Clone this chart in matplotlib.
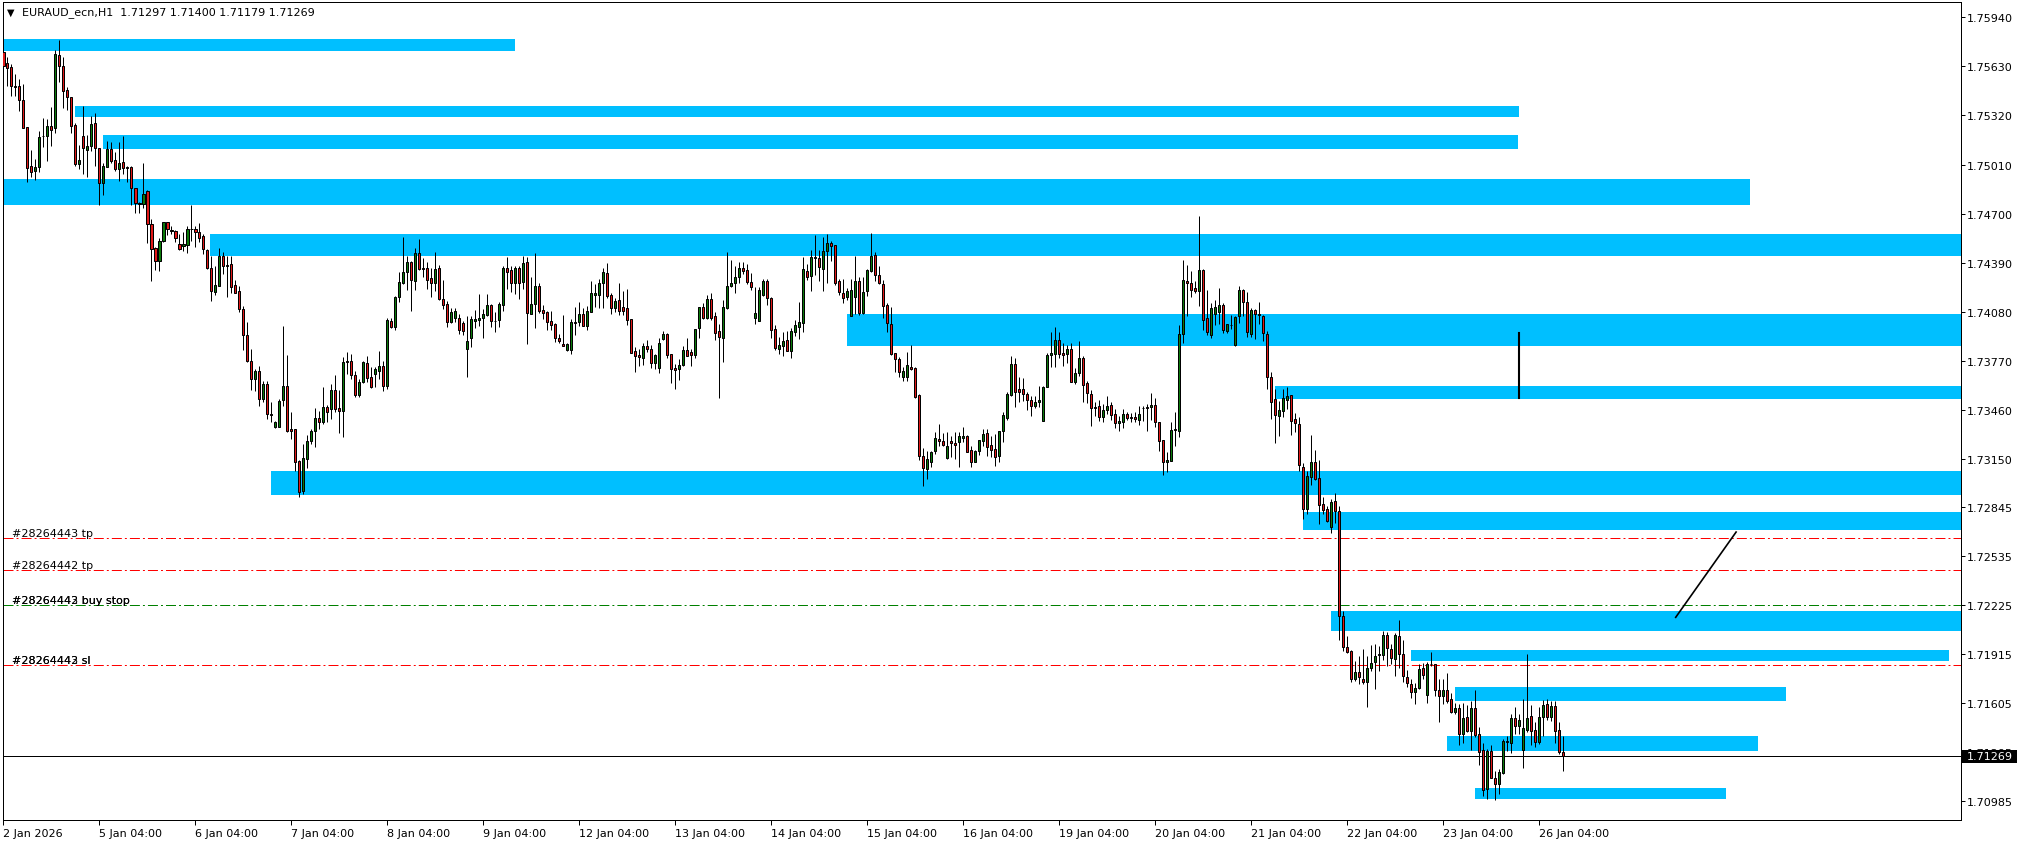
import numpy as np
import matplotlib
matplotlib.use("Agg")
import matplotlib.pyplot as plt
from matplotlib.patches import Rectangle

plt.rcParams['font.family'] = ['DejaVu Sans']
plt.rcParams['lines.scale_dashes'] = False

W, H, DPI = 2024, 845, 100
FS = 8.0

header_text = "EURAUD_ecn,H1  1.71297 1.71400 1.71179 1.71269"

# ---------------- OHLC data (H1 bars, 2 Jan 2026 -> 26 Jan 2026) ----------------
opens = [
 1.75719,1.75651,1.75624,1.75504,1.75504,1.75417,1.75244,1.74998,1.74971,1.74992,
 1.75190,1.75188,1.75251,1.75238,1.75702,1.75630,1.75480,1.75434,1.75259,1.75015,
 1.75188,1.75099,1.75124,1.75270,1.75112,1.74890,1.74992,1.75107,1.75038,1.74981,
 1.75023,1.74994,1.74994,1.74859,1.74764,1.74758,1.74840,1.74631,1.74480,1.74402,
 1.74528,1.74648,1.74591,1.74589,1.74507,1.74496,1.74503,1.74602,1.74602,1.74581,
 1.74555,1.74469,1.74353,1.74206,1.74244,1.74433,1.74374,1.74378,1.74248,1.74208,
 1.74096,1.73932,1.73770,1.73654,1.73702,1.73531,1.73622,1.73430,1.73354,1.73354,
 1.73521,1.73607,1.73338,1.73338,1.73135,1.72948,1.73148,1.73264,1.73323,1.73407,
 1.73384,1.73475,1.73464,1.73584,1.73470,1.73453,1.73765,1.73765,1.73681,1.73553,
 1.73633,1.73753,1.73668,1.73689,1.73706,1.73734,1.73611,1.74018,1.73984,1.74170,
 1.74260,1.74328,1.74391,1.74275,1.74450,1.74353,1.74353,1.74290,1.74260,1.74353,
 1.74159,1.74128,1.74016,1.74041,1.74043,1.74008,1.73841,1.73915,1.74022,1.74029,
 1.74039,1.74060,1.74119,1.74018,1.74029,1.74123,1.74353,1.74345,1.74258,1.74353,
 1.74269,1.74391,1.74067,1.74126,1.74239,1.74088,1.74075,1.74018,1.73999,1.73911,
 1.73875,1.73839,1.73839,1.74012,1.74012,1.74062,1.73991,1.74079,1.74185,1.74185,
 1.74258,1.74324,1.74185,1.74105,1.74153,1.74107,1.74100,1.74033,1.73831,1.73807,
 1.73788,1.73862,1.73843,1.73753,1.73725,1.73909,1.73936,1.73810,1.73723,1.73717,
 1.73744,1.73837,1.73822,1.73807,1.73978,1.74107,1.74041,1.74159,1.74050,1.73955,
 1.73911,1.74100,1.74239,1.74258,1.74300,1.74353,1.74343,1.74269,1.74037,1.74022,
 1.74187,1.74273,1.74164,1.73968,1.73847,1.73864,1.73900,1.73833,1.73953,1.73980,
 1.74006,1.74335,1.74307,1.74417,1.74417,1.74350,1.74465,1.74512,1.74501,1.74272,
 1.74196,1.74175,1.74055,1.74175,1.74274,1.74069,1.74213,1.74335,1.74438,1.74309,
 1.74255,1.74122,1.74002,1.73816,1.73779,1.73669,1.73665,1.73732,1.73722,1.73551,
 1.73165,1.73085,1.73132,1.73201,1.73275,1.73260,1.73157,1.73260,1.73250,1.73254,
 1.73283,1.73296,1.73208,1.73132,1.73197,1.73262,1.73311,1.73237,1.73212,1.73168,
 1.73323,1.73410,1.73555,1.73749,1.73589,1.73591,1.73557,1.73521,1.73486,1.73507,
 1.73391,1.73602,1.73806,1.73812,1.73901,1.73819,1.73812,1.73842,1.73637,1.73690,
 1.73787,1.73629,1.73559,1.73477,1.73481,1.73412,1.73460,1.73490,1.73433,1.73374,
 1.73380,1.73431,1.73412,1.73412,1.73397,1.73471,1.73475,1.73475,1.73490,1.73380,
 1.73269,1.73127,1.73138,1.73332,1.73328,1.73941,1.74274,1.74259,1.74229,1.74208,
 1.74342,1.74042,1.73932,1.74067,1.74079,1.74123,1.73956,1.73993,1.73870,1.74050,
 1.74214,1.74141,1.73939,1.74089,1.74062,1.74050,1.73937,1.73666,1.73526,1.73420,
 1.73452,1.73521,1.73551,1.73401,1.73371,1.73096,1.72830,1.73035,1.73128,1.73030,
 1.72862,1.72833,1.72722,1.72882,1.72818,1.72157,1.71960,1.71933,1.71756,1.71801,
 1.71756,1.71737,1.71825,1.71867,1.71909,1.71911,1.72039,1.71948,1.71884,1.72032,
 1.71916,1.71769,1.71727,1.71675,1.71700,1.71825,1.71658,1.71855,1.71853,1.71688,
 1.71651,1.71690,1.71633,1.71547,1.71577,1.71412,1.71516,1.71430,1.71577,1.71410,
 1.71309,1.71061,1.71302,1.71134,1.71093,1.71166,1.71363,1.71356,1.71511,1.71461,
 1.71307,1.71437,1.71523,1.71437,1.71363,1.71516,1.71602,1.71518,1.71589,1.71437,
 1.71297]

highs = [
 1.75792,1.75687,1.75645,1.75582,1.75550,1.75518,1.75244,1.75101,1.75044,1.75223,
 1.75301,1.75297,1.75371,1.75733,1.75796,1.75687,1.75501,1.75434,1.75270,1.75133,
 1.75379,1.75196,1.75314,1.75335,1.75112,1.75019,1.75158,1.75154,1.75091,1.75150,
 1.75192,1.75002,1.75002,1.74859,1.74775,1.75017,1.74848,1.74665,1.74486,1.74543,
 1.74648,1.74648,1.74623,1.74598,1.74570,1.74581,1.74619,1.74756,1.74623,1.74640,
 1.74570,1.74475,1.74433,1.74370,1.74482,1.74454,1.74433,1.74433,1.74282,1.74244,
 1.74113,1.74012,1.73843,1.73717,1.73738,1.73643,1.73643,1.73506,1.73386,1.73527,
 1.73991,1.73805,1.73443,1.73338,1.73144,1.73243,1.73300,1.73338,1.73468,1.73454,
 1.73601,1.73489,1.73622,1.73679,1.73586,1.73791,1.73826,1.73812,1.73706,1.73654,
 1.73770,1.73801,1.73727,1.73727,1.73833,1.73770,1.74037,1.74041,1.74180,1.74328,
 1.74549,1.74433,1.74402,1.74480,1.74539,1.74416,1.74391,1.74359,1.74454,1.74374,
 1.74279,1.74149,1.74100,1.74102,1.74064,1.74022,1.74050,1.74050,1.74090,1.74191,
 1.74096,1.74191,1.74128,1.74079,1.74138,1.74370,1.74423,1.74366,1.74370,1.74366,
 1.74433,1.74423,1.74296,1.74450,1.74260,1.74123,1.74081,1.74081,1.74006,1.73936,
 1.74058,1.73879,1.74033,1.74107,1.74138,1.74100,1.74113,1.74273,1.74252,1.74286,
 1.74353,1.74387,1.74197,1.74166,1.74258,1.74208,1.74223,1.74033,1.73854,1.73843,
 1.73879,1.73902,1.73869,1.73812,1.73911,1.73955,1.73942,1.73812,1.73751,1.73780,
 1.73862,1.73911,1.73843,1.73970,1.74107,1.74134,1.74185,1.74197,1.74075,1.74001,
 1.74153,1.74454,1.74406,1.74370,1.74391,1.74395,1.74381,1.74324,1.74237,1.74233,
 1.74286,1.74286,1.74170,1.73995,1.73917,1.73953,1.73957,1.73974,1.74027,1.74138,
 1.74423,1.74381,1.74470,1.74564,1.74470,1.74550,1.74571,1.74529,1.74501,1.74286,
 1.74286,1.74227,1.74286,1.74430,1.74297,1.74297,1.74350,1.74575,1.74459,1.74371,
 1.74280,1.74135,1.74107,1.73816,1.73791,1.73728,1.73823,1.73871,1.73728,1.73559,
 1.73216,1.73197,1.73197,1.73317,1.73370,1.73311,1.73317,1.73292,1.73317,1.73317,
 1.73353,1.73300,1.73233,1.73208,1.73271,1.73338,1.73338,1.73296,1.73307,1.73323,
 1.73444,1.73570,1.73798,1.73787,1.73665,1.73663,1.73570,1.73549,1.73549,1.73612,
 1.73612,1.73819,1.73949,1.73983,1.73949,1.73882,1.73871,1.73882,1.73722,1.73892,
 1.73802,1.73644,1.73585,1.73511,1.73524,1.73496,1.73545,1.73511,1.73465,1.73422,
 1.73465,1.73444,1.73437,1.73444,1.73486,1.73486,1.73496,1.73564,1.73532,1.73385,
 1.73271,1.73191,1.73380,1.73444,1.73996,1.74406,1.74375,1.74339,1.74276,1.74687,
 1.74350,1.74214,1.74136,1.74153,1.74227,1.74133,1.74005,1.74060,1.74055,1.74239,
 1.74222,1.74202,1.74104,1.74099,1.74141,1.74060,1.73956,1.73698,1.73588,1.73514,
 1.73588,1.73605,1.73551,1.73440,1.73416,1.73121,1.73071,1.73300,1.73207,1.73140,
 1.72907,1.72850,1.72899,1.72931,1.72850,1.72191,1.72032,1.71941,1.71872,1.71904,
 1.71946,1.71904,1.71970,1.71978,1.71965,1.72064,1.72056,1.71978,1.72051,1.72130,
 1.72007,1.71818,1.71761,1.71732,1.71855,1.71860,1.71867,1.71928,1.71855,1.71756,
 1.71756,1.71798,1.71670,1.71609,1.71602,1.71604,1.71597,1.71621,1.71690,1.71454,
 1.71351,1.71314,1.71339,1.71179,1.71191,1.71380,1.71400,1.71535,1.71584,1.71535,
 1.71633,1.71916,1.71597,1.71486,1.71584,1.71626,1.71633,1.71621,1.71621,1.71486,
 1.71400]

lows = [
 1.75617,1.75504,1.75445,1.75445,1.75350,1.75238,1.74897,1.74933,1.74914,1.74964,
 1.75118,1.75034,1.75129,1.75207,1.75533,1.75367,1.75356,1.75207,1.75002,1.74981,
 1.74949,1.74933,1.75097,1.75002,1.74756,1.74819,1.74992,1.75017,1.74971,1.74907,
 1.74949,1.74897,1.74756,1.74701,1.74701,1.74732,1.74511,1.74271,1.74345,1.74338,
 1.74518,1.74566,1.74570,1.74522,1.74471,1.74465,1.74448,1.74524,1.74486,1.74518,
 1.74444,1.74349,1.74149,1.74185,1.74244,1.74317,1.74174,1.74201,1.74197,1.74075,
 1.73839,1.73759,1.73586,1.73580,1.73485,1.73506,1.73401,1.73380,1.73344,1.73348,
 1.73485,1.73321,1.73274,1.73074,1.72906,1.72927,1.73089,1.73243,1.73222,1.73338,
 1.73373,1.73384,1.73401,1.73447,1.73312,1.73285,1.73685,1.73654,1.73538,1.73542,
 1.73628,1.73633,1.73595,1.73601,1.73654,1.73580,1.73590,1.73974,1.73965,1.74142,
 1.74254,1.74218,1.74086,1.74218,1.74343,1.74300,1.74223,1.74174,1.74212,1.74155,
 1.74096,1.73984,1.74008,1.74012,1.73938,1.73932,1.73668,1.73858,1.73974,1.73991,
 1.73915,1.74054,1.73984,1.73953,1.73984,1.74086,1.74223,1.74206,1.74191,1.74159,
 1.74223,1.73875,1.74064,1.73976,1.74071,1.74033,1.73965,1.73965,1.73890,1.73885,
 1.73864,1.73829,1.73812,1.73932,1.73987,1.73987,1.73963,1.74075,1.74107,1.74105,
 1.74105,1.74166,1.74064,1.74079,1.74060,1.74060,1.73997,1.73820,1.73700,1.73736,
 1.73744,1.73826,1.73721,1.73717,1.73694,1.73902,1.73784,1.73630,1.73593,1.73649,
 1.73736,1.73801,1.73738,1.73788,1.73911,1.74033,1.74033,1.74029,1.73902,1.73534,
 1.73763,1.74096,1.74233,1.74197,1.74258,1.74317,1.74254,1.74218,1.74001,1.74022,
 1.74180,1.74121,1.73913,1.73837,1.73812,1.73801,1.73829,1.73786,1.73928,1.73906,
 1.73949,1.74280,1.74213,1.74312,1.74276,1.74213,1.74259,1.74402,1.74250,1.74187,
 1.74133,1.74154,1.74055,1.74065,1.74061,1.74065,1.74181,1.74328,1.74276,1.74255,
 1.74038,1.73949,1.73808,1.73701,1.73669,1.73644,1.73644,1.73713,1.73536,1.73142,
 1.72980,1.73022,1.73096,1.73180,1.73233,1.73229,1.73149,1.73159,1.73149,1.73100,
 1.73254,1.73191,1.73100,1.73127,1.73174,1.73233,1.73170,1.73159,1.73106,1.73127,
 1.73254,1.73397,1.73549,1.73479,1.73507,1.73517,1.73460,1.73422,1.73469,1.73475,
 1.73391,1.73602,1.73732,1.73728,1.73785,1.73734,1.73755,1.73633,1.73623,1.73675,
 1.73507,1.73503,1.73359,1.73422,1.73391,1.73380,1.73433,1.73395,1.73342,1.73328,
 1.73347,1.73395,1.73380,1.73380,1.73363,1.73391,1.73323,1.73395,1.73349,1.73201,
 1.73050,1.73068,1.73134,1.73233,1.73285,1.73882,1.74050,1.74175,1.74196,1.74118,
 1.73961,1.73932,1.73914,1.73993,1.74005,1.73944,1.73944,1.73969,1.73863,1.74010,
 1.74055,1.73919,1.73919,1.73907,1.74005,1.73895,1.73588,1.73403,1.73251,1.73293,
 1.73416,1.73465,1.73300,1.73317,1.73071,1.72772,1.72801,1.72985,1.73015,1.72735,
 1.72801,1.72752,1.72683,1.72744,1.72002,1.71933,1.71921,1.71737,1.71744,1.71727,
 1.71727,1.71579,1.71806,1.71695,1.71806,1.71879,1.71842,1.71850,1.71776,1.71830,
 1.71739,1.71707,1.71641,1.71602,1.71695,1.71756,1.71604,1.71842,1.71653,1.71486,
 1.71602,1.71609,1.71543,1.71540,1.71339,1.71351,1.71425,1.71307,1.71393,1.71216,
 1.71019,1.71002,1.71130,1.70994,1.71031,1.71159,1.71302,1.71289,1.71412,1.71412,
 1.71198,1.71425,1.71339,1.71331,1.71346,1.71400,1.71498,1.71493,1.71351,1.71282,
 1.71179]

closes = [
 1.75634,1.75622,1.75504,1.75500,1.75419,1.75240,1.74985,1.74964,1.74992,1.75181,
 1.75192,1.75255,1.75230,1.75708,1.75630,1.75472,1.75434,1.75255,1.75015,1.75038,
 1.75112,1.75124,1.75266,1.75112,1.74890,1.75000,1.75107,1.75034,1.74981,1.75019,
 1.74985,1.74990,1.74859,1.74764,1.74760,1.74821,1.74631,1.74475,1.74402,1.74524,
 1.74648,1.74602,1.74593,1.74543,1.74475,1.74507,1.74602,1.74600,1.74585,1.74545,
 1.74475,1.74353,1.74212,1.74248,1.74433,1.74370,1.74370,1.74237,1.74201,1.74096,
 1.73932,1.73770,1.73654,1.73706,1.73531,1.73622,1.73430,1.73426,1.73380,1.73513,
 1.73607,1.73323,1.73323,1.73127,1.72941,1.73152,1.73264,1.73323,1.73407,1.73384,
 1.73475,1.73447,1.73586,1.73464,1.73453,1.73759,1.73759,1.73681,1.73555,1.73633,
 1.73759,1.73660,1.73601,1.73717,1.73734,1.73611,1.74027,1.73984,1.74170,1.74269,
 1.74328,1.74391,1.74282,1.74450,1.74349,1.74351,1.74282,1.74260,1.74349,1.74159,
 1.74123,1.74016,1.74075,1.74081,1.73965,1.73959,1.73892,1.74033,1.74033,1.74039,
 1.74064,1.74119,1.74022,1.74020,1.74126,1.74353,1.74332,1.74260,1.74353,1.74258,
 1.74387,1.74073,1.74126,1.74239,1.74086,1.74073,1.74016,1.73997,1.73915,1.73894,
 1.73864,1.73875,1.74012,1.74010,1.74062,1.73991,1.74081,1.74197,1.74197,1.74260,
 1.74328,1.74180,1.74105,1.74147,1.74086,1.74086,1.74029,1.73820,1.73801,1.73795,
 1.73862,1.73841,1.73755,1.73805,1.73879,1.73936,1.73803,1.73719,1.73713,1.73744,
 1.73837,1.73801,1.73807,1.73970,1.74107,1.74041,1.74159,1.74037,1.73947,1.73917,
 1.74107,1.74241,1.74260,1.74296,1.74359,1.74338,1.74269,1.74237,1.74069,1.74216,
 1.74273,1.74164,1.73965,1.73852,1.73869,1.73894,1.73833,1.73955,1.73995,1.74012,
 1.74350,1.74297,1.74423,1.74427,1.74364,1.74461,1.74512,1.74497,1.74261,1.74206,
 1.74168,1.74208,1.74217,1.74274,1.74071,1.74202,1.74343,1.74434,1.74314,1.74259,
 1.74114,1.74006,1.73812,1.73779,1.73696,1.73703,1.73743,1.73717,1.73543,1.73170,
 1.73090,1.73149,1.73191,1.73281,1.73260,1.73239,1.73229,1.73248,1.73239,1.73292,
 1.73294,1.73195,1.73132,1.73197,1.73269,1.73307,1.73226,1.73208,1.73163,1.73323,
 1.73427,1.73559,1.73749,1.73570,1.73570,1.73557,1.73519,1.73486,1.73509,1.73521,
 1.73602,1.73806,1.73816,1.73901,1.73812,1.73808,1.73842,1.73637,1.73692,1.73787,
 1.73618,1.73564,1.73469,1.73469,1.73412,1.73458,1.73484,1.73427,1.73374,1.73391,
 1.73431,1.73408,1.73410,1.73401,1.73431,1.73469,1.73473,1.73490,1.73380,1.73264,
 1.73127,1.73142,1.73332,1.73338,1.73939,1.74280,1.74259,1.74219,1.74213,1.74343,
 1.74030,1.73949,1.74104,1.74109,1.74123,1.73961,1.74001,1.73995,1.74047,1.74214,
 1.74141,1.73949,1.74091,1.74062,1.74060,1.73944,1.73666,1.73506,1.73428,1.73460,
 1.73534,1.73546,1.73391,1.73374,1.73113,1.72830,1.73042,1.73128,1.73022,1.72858,
 1.72826,1.72757,1.72880,1.72818,1.72157,1.71958,1.71928,1.71756,1.71801,1.71769,
 1.71737,1.71825,1.71860,1.71904,1.71916,1.72034,1.71953,1.71892,1.72034,1.71916,
 1.71774,1.71732,1.71675,1.71700,1.71823,1.71781,1.71855,1.71853,1.71688,1.71653,
 1.71690,1.71616,1.71552,1.71577,1.71410,1.71511,1.71432,1.71577,1.71405,1.71297,
 1.71056,1.71302,1.71134,1.71093,1.71171,1.71368,1.71365,1.71511,1.71461,1.71498,
 1.71449,1.71511,1.71430,1.71363,1.71516,1.71597,1.71518,1.71589,1.71430,1.71297,
 1.71269]

# time axis labels (one every 24 H1 bars)
date_labels = ["2 Jan 2026", "5 Jan 04:00", "6 Jan 04:00", "7 Jan 04:00", "8 Jan 04:00",
               "9 Jan 04:00", "12 Jan 04:00", "13 Jan 04:00", "14 Jan 04:00", "15 Jan 04:00",
               "16 Jan 04:00", "19 Jan 04:00", "20 Jan 04:00", "21 Jan 04:00", "22 Jan 04:00",
               "23 Jan 04:00", "26 Jan 04:00"]
bars_per_label = 24

price_ticks = [1.75940, 1.75630, 1.75320, 1.75010, 1.74700, 1.74390, 1.74080, 1.73770,
               1.73460, 1.73150, 1.72845, 1.72535, 1.72225, 1.71915, 1.71605, 1.71295, 1.70985]

# supply/demand zones: (start bar, end bar, low price, high price)
zone_start = [-1, 17.9, 24.9, -1, 51.8, 210.9, 318.0, 66.9, 324.9, 331.9, 351.9, 362.9, 360.9, 367.9]
zone_end   = [127.9, 378.8, 378.8, 436.7, 495, 495, 495, 495, 495, 495, 486.4, 445.8, 438.7, 430.6]
zone_low   = [1.75727, 1.75310, 1.75108, 1.74756, 1.74432, 1.73864, 1.73531, 1.72918, 1.72697,
              1.72063, 1.71871, 1.71620, 1.71306, 1.71001]
zone_high  = [1.75803, 1.75379, 1.75196, 1.74918, 1.74570, 1.74065, 1.73607, 1.73071, 1.72813,
              1.72186, 1.71940, 1.71707, 1.71399, 1.71067]

# pending-order levels
order_names  = ["#28264443 tp", "#28264442 tp", "#28264442 buy stop", "#28264442 sl"]
order_levels = [1.72649, 1.72445, 1.72225, 1.71846]
order_colors = ["#FF0000", "#FF0000", "#008000", "#FF0000"]

current_price = 1.71269

# drawn trend lines
trend_bars = [418.1, 433.2]
trend_prices = [1.72148, 1.72687]
vline_bar = 378.9
vline_prices = [1.73944, 1.73534]

# ---------------------------------------------------------------------------
fig = plt.figure(figsize=(W / DPI, H / DPI), dpi=DPI, facecolor="white")
px_l, px_r, px_t, px_b = 2.7, 1960.7, 2.7, 821.0
ax = fig.add_axes([px_l / W, (H - px_b) / H, (px_r - px_l) / W, (px_b - px_t) / H])
ax.set_facecolor("white")

ax.set_xlim(-0.15, 489.35)
ax.set_ylim(1.70867, 1.76039)

PX = 0.72  # one pixel in points

# zones
for x0, x1, lo, hi in zip(zone_start, zone_end, zone_low, zone_high):
    ax.add_patch(Rectangle((x0, lo), x1 - x0, hi - lo, facecolor="#00BFFF",
                           edgecolor="none", zorder=1))

# order lines
dash = (0, (7.2, 2.2, 1.4, 2.2))
for lvl, col in zip(order_levels, order_colors):
    ax.axhline(lvl, color=col, lw=PX, linestyle=dash, zorder=2)

# labels of order lines (overlapping duplicates as drawn by the terminal)
for name, lvl in zip(order_names, order_levels):
    ax.annotate(name, xy=(0.0046, lvl), xycoords=("axes fraction", "data"),
                xytext=(0, 1.8), textcoords="offset points", va="baseline", ha="left",
                fontsize=FS, color="black", zorder=6)
for name, lvl in zip(["#28264443 buy stop", "#28264443 sl"], order_levels[2:]):
    ax.annotate(name, xy=(0.0046, lvl), xycoords=("axes fraction", "data"),
                xytext=(0, 1.8), textcoords="offset points", va="baseline", ha="left",
                fontsize=FS, color="black", zorder=6)

# current price line
ax.axhline(current_price, color="black", lw=PX, zorder=2.5)

# candles
o = np.array(opens); h = np.array(highs); l = np.array(lows); c = np.array(closes)
x = np.arange(len(o))
up = c > o
ax.vlines(x, l, h, color="black", lw=PX, zorder=3)
body_lo = np.minimum(o, c)
body_h = np.maximum(np.abs(c - o), 0.00001)
colors = np.where(up, "#0B7A0B", np.where(c < o, "#E01818", "black"))
ax.bar(x, body_h, bottom=body_lo, width=0.6, color=colors, edgecolor="black",
       linewidth=PX, zorder=4)

# trend lines
ax.plot(trend_bars, trend_prices, color="black", lw=1.2, zorder=5)
ax.plot([vline_bar, vline_bar], vline_prices, color="black", lw=1.5, zorder=5)

# axes styling
for s in ax.spines.values():
    s.set_linewidth(PX)
    s.set_color("black")

ax.yaxis.tick_right()
ax.set_yticks(price_ticks, [f"{p:.5f}" for p in price_ticks])
ax.tick_params(axis="y", direction="out", length=3.0, width=PX, pad=1.5,
               labelsize=FS, colors="black")

tick_bars = [i * bars_per_label for i in range(len(date_labels))]
ax.set_xticks(tick_bars, date_labels, ha="left")
ax.tick_params(axis="x", direction="out", length=3.6, width=PX, pad=2.0,
               labelsize=FS, colors="black")

# current price label on the price scale
box_half = 0.00042
ax.add_patch(Rectangle((1.0005, current_price - box_half), 0.0284, 2 * box_half,
                       transform=ax.get_yaxis_transform(), facecolor="black",
                       edgecolor="none", clip_on=False, zorder=10))
ax.text(1.0030, current_price, f"{current_price:.5f}", transform=ax.get_yaxis_transform(),
        color="white", fontsize=FS, va="center", ha="left", zorder=11, clip_on=False)

# header
fig.text(6.5 / W, 1 - 12.6 / H, "\u25BC", fontsize=7, va="center", ha="left", color="black")
fig.text(21.7 / W, 1 - 12.7 / H, header_text, fontsize=FS, va="center", ha="left",
         color="black")

fig.savefig("out.png", dpi=DPI, facecolor="white")
